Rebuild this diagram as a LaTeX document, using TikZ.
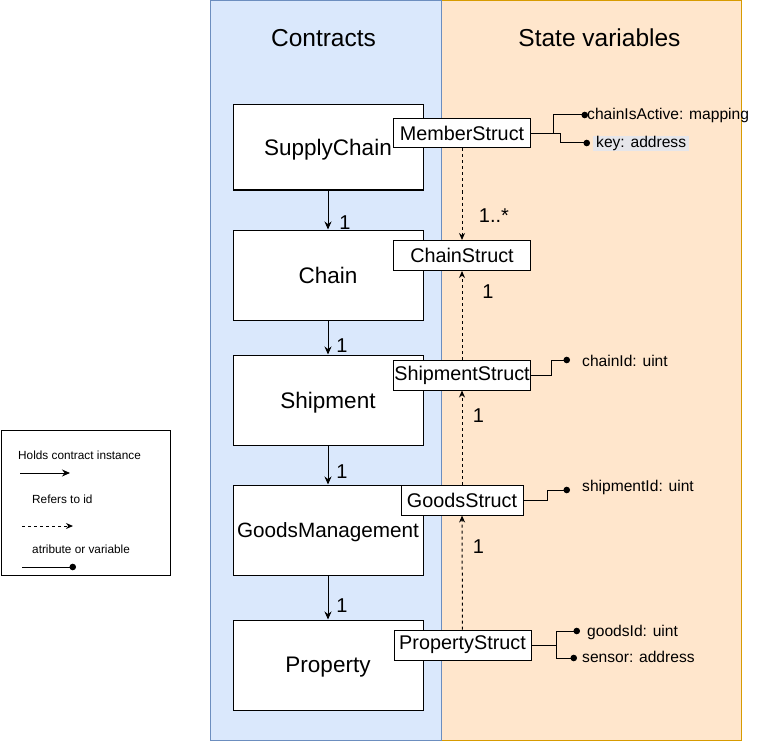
\documentclass[tikz,border=0pt]{standalone}
\usepackage{fontspec}
\setmainfont{Liberation Sans}
\usepackage{tikz}
\usetikzlibrary{arrows.meta}
\definecolor{LaneBlue}{HTML}{DAE8FC}
\definecolor{LaneBlueDark}{HTML}{6C8EBF}
\definecolor{LaneOrange}{HTML}{FFE6CC}
\definecolor{LaneOrangeDark}{HTML}{D79B00}
\definecolor{KeyGrey}{HTML}{E6E6EA}
\tikzset{
  contractlane/.style={draw=LaneBlueDark,fill=LaneBlue,line width=1pt},
  statelane/.style={draw=LaneOrangeDark,fill=LaneOrange,line width=1pt},
  lanetitle/.style={inner sep=0pt,font=\fontsize{24.5}{28}\selectfont},
  contractnode/.style={draw=black,fill=white,line width=1pt,minimum width=190pt,minimum height=90pt,inner sep=0pt,text depth=0pt,font=\fontsize{22.5}{26}\selectfont},
  structnode/.style={draw=black,fill=white,line width=1pt,minimum width=137pt,minimum height=30pt,inner sep=0pt,font=\fontsize{19.8}{22}\selectfont},
  attrtext/.style={anchor=west,inner sep=0pt,font=\fontsize{15.6}{18}\selectfont},
  multlabel/.style={inner sep=0pt,font=\fontsize{20}{24}\selectfont},
  legendtext/.style={anchor=west,inner sep=0pt,font=\fontsize{11.8}{14}\selectfont},
  holdarrow/.style={-{Stealth[length=8pt,width=7pt]},line width=1pt},
  refarrow/.style={-{Stealth[length=7pt,width=6pt]},line width=1pt,dash pattern=on 3pt off 3pt},
  attrline/.style={-{Circle[length=6.5pt]},line width=1pt}
}
\begin{document}
\begin{tikzpicture}[x=1pt,y=-1pt]
\useasboundingbox (0,0) rectangle (766,741);
\draw[statelane] (441,0.5) rectangle (741,740.5);
\draw[contractlane] (210.5,0.5) rectangle (441,740.5);
\node[lanetitle] (tc) at (323.5,38) {Contracts};
\node[lanetitle] (ts) at (599.5,38) {State variables};
\node[contractnode,minimum height=85pt] (sc) at (328,147.5) {SupplyChain};
\node[contractnode] (ch) at (328,275) {Chain};
\node[contractnode] (sh) at (328,400) {Shipment};
\node[contractnode,font=\fontsize{20.7}{24}\selectfont] (gm) at (328,530) {GoodsManagement};
\node[contractnode] (pr) at (328,665) {Property};
\draw[holdarrow] (sc) -- (ch);
\draw[holdarrow] (ch) -- (sh);
\draw[holdarrow] (sh) -- (gm);
\draw[holdarrow] (gm) -- (pr);
\node[multlabel] (k1) at (345,223) {1};
\node[multlabel] (k2) at (342,345.5) {1};
\node[multlabel] (k3) at (342,471.5) {1};
\node[multlabel] (k4) at (342,605.5) {1};
\node[structnode,minimum height=29pt] (ms) at (462,133.5) {MemberStruct};
\node[structnode] (cs) at (462,255.5) {ChainStruct};
\node[structnode] (ss) at (462,375) {ShipmentStruct};
\node[structnode,minimum width=122pt] (gs) at (462,500) {GoodsStruct};
\node[structnode] (ps) at (462.5,645) {PropertyStruct};
\draw[refarrow] (ms) -- (cs);
\draw[refarrow] (ss) -- (cs);
\draw[refarrow] (gs) -- (ss);
\draw[refarrow] (ps) -- (gs);
\node[multlabel] (r1) at (494,216) {1..*};
\node[multlabel] (r2) at (488,292) {1};
\node[multlabel] (r3) at (478.5,416) {1};
\node[multlabel] (r4) at (478.5,547) {1};
\coordinate (p1) at (588,115);
\coordinate (p2) at (590,143);
\coordinate (p3) at (570,360);
\coordinate (p4) at (570,490);
\coordinate (p5) at (580,631);
\coordinate (p6) at (577,658);
\node[attrtext] (a1) at (587,115) {chainIsActive: mapping};
\node[attrtext,fill=KeyGrey,inner xsep=3pt,minimum height=15pt] (a2) at (593,143.5) {key: address};
\node[attrtext] (a3) at (582,361) {chainId: uint};
\node[attrtext] (a4) at (582,487) {shipmentId: uint};
\node[attrtext] (a5) at (587,632) {goodsId: uint};
\node[attrtext] (a6) at (582,657) {sensor: address};
\draw[attrline] (ms.east) -- ++(22,0) |- (p1);
\draw[attrline] (ms.east) -- ++(29,0) |- (p2);
\draw[attrline] (ss.east) -- ++(20,0) |- (p3);
\draw[attrline] (gs.east) -- ++(24,0) |- (p4);
\draw[attrline] (ps.east) -- ++(25,0) |- (p5);
\draw[attrline] (ps.east) -- ++(25,0) |- (p6);
\node[draw=black,fill=white,line width=1pt,minimum width=169pt,minimum height=145pt] (lg) at (85.5,502.5) {};
\node[legendtext] (l1) at (18,455) {Holds contract instance};
\node[legendtext] (l2) at (32,499) {Refers to id};
\node[legendtext] (l3) at (32,549) {atribute or variable};
\coordinate (la1) at (20,473);
\coordinate (lb1) at (70,473);
\coordinate (la2) at (22,526);
\coordinate (lb2) at (73,526);
\coordinate (la3) at (22,567);
\coordinate (lb3) at (76,567);
\draw[holdarrow] (la1) -- (lb1);
\draw[refarrow] (la2) -- (lb2);
\draw[attrline] (la3) -- (lb3);
\end{tikzpicture}
\end{document}
